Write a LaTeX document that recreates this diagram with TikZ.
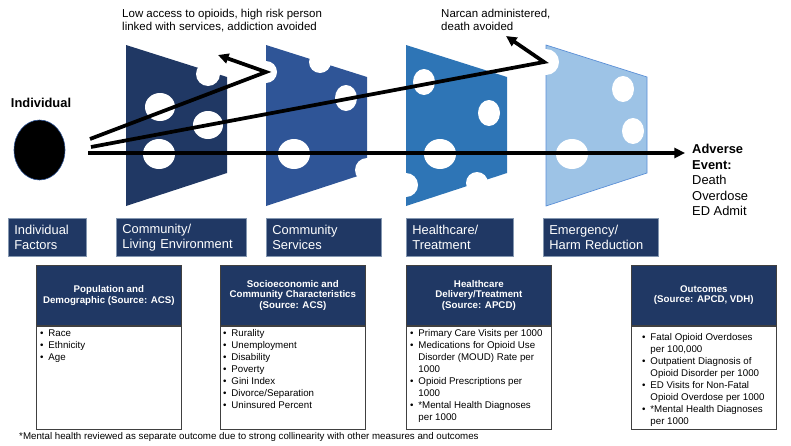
\documentclass[tikz,border=0pt]{standalone}
\usepackage{fontspec}
\setmainfont{Liberation Sans}
\usetikzlibrary{arrows.meta,positioning,shapes.geometric}

\definecolor{navy}{HTML}{203864}
\definecolor{sliceB}{HTML}{2F5597}
\definecolor{sliceC}{HTML}{2E75B6}
\definecolor{sliceD}{HTML}{9DC3E6}
\definecolor{sliceDedge}{HTML}{5B8FD6}
\definecolor{tagedge}{HTML}{8497B0}
\definecolor{frame}{HTML}{404040}

\newcommand{\bul}{\makebox[7pt][l]{\textbullet}}

\begin{document}
\begin{tikzpicture}[x=0.03cm, y=-0.03cm,
    flow/.style={line width=3.2pt, -{Triangle[length=9pt, width=8.5pt]}},
    tag/.style={rectangle, fill=navy, draw=tagedge, line width=0.6pt, text=white, align=left, anchor=north west, inner xsep=6*\px, minimum height=38*\px, font=\fontsize{11}{12.75}\selectfont},
    head/.style={rectangle, fill=navy, draw=frame, line width=0.6pt, text=white, align=center, anchor=north west, minimum width=145*\px, minimum height=60*\px, font=\fontsize{8.3}{8.9}\selectfont\bfseries},
    body/.style={rectangle, draw=frame, line width=0.6pt, minimum width=145*\px, minimum height=103*\px, inner sep=0pt},
    list/.style={anchor=north west, inner sep=0pt, align=left, font=\fontsize{8.3}{10.2}\selectfont},
    note/.style={anchor=north west, inner sep=0pt, align=left, font=\fontsize{9.8}{11}\selectfont}]
        \def\px{0.03cm}
        \useasboundingbox (0,0) rectangle (791,445);

        % the slices
        \foreach \x/\c in {126/navy, 266/sliceB, 406/sliceC, 546/sliceD}
            \fill[\c] (\x,45) -- ++(101,32) -- ++(0,96) -- ++(-101,33) -- cycle;
        \draw[sliceDedge, line width=0.6pt] (546,45) -- ++(101,32) -- ++(0,96) -- ++(-101,33) -- cycle;

        % the holes
        \foreach \hx/\hy/\rx/\ry in {208/74/12/12, 160/107/15/14, 208/125/15/14, 159/154/16/15,
                266/72/11/11, 320/62/11/11, 346/98/11/13, 294/154/16/15, 367/170/12/12,
                424/82/11/13, 489/113/11/13, 440/154/16/15, 406/185/12/12, 477/183/11/11,
                546/62/13/13, 623/89/11/13, 633/131/11/13, 572/154/16/15}
            \fill[white] (\hx,\hy) ellipse ({\rx} and {\ry});

        \node (individual) [font=\fontsize{11}{13}\selectfont\bfseries] at (41,103) {Individual};
        \node (person) [ellipse, fill=black, draw=sliceB, line width=0.5pt, minimum width=51*\px, minimum height=60*\px, inner sep=0pt] at (39.5,150) {};

        \node (lowNote) [note] at (122,9) {Low access to opioids, high risk person\\linked with services, addiction avoided};
        \node (narcanNote) [note] at (441,9) {Narcan administered,\\death avoided};

        \node (adverse) [anchor=north west, inner xsep=7*\px, inner ysep=0pt, align=left, font=\fontsize{11}{13.3}\selectfont] at (685,144) {\textbf{Adverse}\\\textbf{Event:}\\Death\\Overdose\\ED Admit};

        % the three paths
        \coordinate (startA) at (90,139);
        \coordinate (bendA) at (266,72);
        \coordinate (tipA) at (218,55);
        \coordinate (startB) at (91,147);
        \coordinate (bendB) at (544,62);
        \coordinate (tipB) at (506,36);
        \coordinate (startC) at (88,153);
        \draw[flow] (startA) -- (bendA) -- (tipA);
        \draw[flow] (startB) -- (bendB) -- (tipB);
        \draw[flow] (startC) -- (startC -| adverse.west);

        % layer labels
        \node (tagIndiv) [tag, text width=66*\px] at (8,218) {Individual\\Factors};
        \node (tagLiving) [tag, text width=118*\px] at (116,218) {Community/\\Living Environment};
        \node (tagServ) [tag, text width=103*\px] at (266,218) {Community\\Services};
        \node (tagCare) [tag, text width=95*\px] at (406,218) {Healthcare/\\Treatment};
        \node (tagHarm) [tag, text width=103*\px] at (543,218) {Emergency/\\Harm Reduction};

        % data boxes
        \node (popHead) [head] at (36,265) {Population and\\Demographic (Source: ACS)};
        \node (popBody) [body, below=0pt of popHead] {};
        \node (popList) [list] at ([shift={(4,4)}]popBody.north west) {\bul Race\\\bul Ethnicity\\\bul Age};

        \node (socHead) [head] at (220,265) {Socioeconomic and\\Community Characteristics\\(Source: ACS)};
        \node (socBody) [body, below=0pt of socHead] {};
        \node (socList) [list] at ([shift={(3,4)}]socBody.north west) {\bul Rurality\\\bul Unemployment\\\bul Disability\\\bul Poverty\\\bul Gini Index\\\bul Divorce/Separation\\\bul Uninsured Percent};

        \node (careHead) [head] at (406,265) {Healthcare\\Delivery/Treatment\\(Source: APCD)};
        \node (careBody) [body, below=0pt of careHead] {};
        \node (careList) [list] at ([shift={(4,4)}]careBody.north west) {\bul Primary Care Visits per 1000\\\bul Medications for Opioid Use\\\hspace*{7pt}Disorder (MOUD) Rate per\\\hspace*{7pt}1000\\\bul Opioid Prescriptions per\\\hspace*{7pt}1000\\\bul *Mental Health Diagnoses\\\hspace*{7pt}per 1000};

        \node (outHead) [head] at (631,265) {Outcomes\\(Source: APCD, VDH)};
        \node (outBody) [body, below=0pt of outHead] {};
        \node (outList) [list] at ([shift={(11,8)}]outBody.north west) {\bul Fatal Opioid Overdoses\\\hspace*{7pt}per 100,000\\\bul Outpatient Diagnosis of\\\hspace*{7pt}Opioid Disorder per 1000\\\bul ED Visits for Non-Fatal\\\hspace*{7pt}Opioid Overdose per 1000\\\bul *Mental Health Diagnoses\\\hspace*{7pt}per 1000};

        \node (footnote) [anchor=base west, inner sep=0pt, font=\fontsize{8.3}{10}\selectfont] at (19,439) {*Mental health reviewed as separate outcome due to strong collinearity with other measures and outcomes};
\end{tikzpicture}
\end{document}
